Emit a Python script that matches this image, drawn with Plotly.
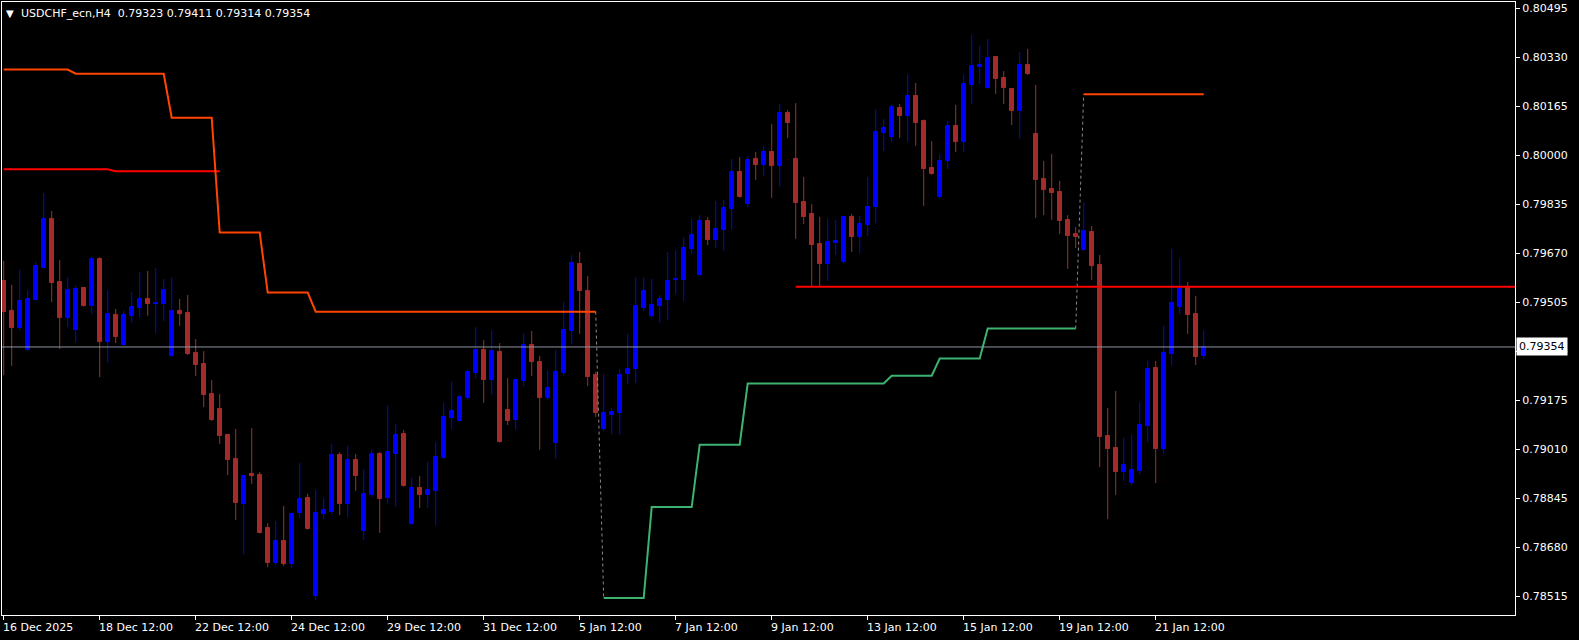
import plotly.graph_objects as go

# ---------------- data (USDCHF_ecn, H4) ----------------
opens = [0.79577, 0.79476, 0.79418, 0.79344, 0.79512, 0.79620, 0.79785, 0.79573, 0.79452, 0.79411,
         0.79553, 0.79492, 0.79650, 0.79370, 0.79462, 0.79360, 0.79459, 0.79485, 0.79516, 0.79500,
         0.79499, 0.79324, 0.79476, 0.79469, 0.79334, 0.79297, 0.79196, 0.79146, 0.79058, 0.78977,
         0.78826, 0.78927, 0.78923, 0.78744, 0.78627, 0.78701, 0.78623, 0.78795, 0.78846, 0.78516,
         0.78792, 0.78799, 0.78990, 0.78826, 0.78974, 0.78734, 0.78856, 0.78994, 0.78846, 0.78994,
         0.79061, 0.78758, 0.78880, 0.78856, 0.78870, 0.78980, 0.79115, 0.79105, 0.79182, 0.79266,
         0.79344, 0.79243, 0.79337, 0.79142, 0.79108, 0.79239, 0.79360, 0.79303, 0.79182, 0.79031,
         0.79266, 0.79408, 0.79634, 0.79543, 0.79260, 0.79078, 0.79125, 0.79132, 0.79263, 0.79280,
         0.79485, 0.79459, 0.79492, 0.79512, 0.79580, 0.79580, 0.79684, 0.79596, 0.79778, 0.79714,
         0.79748, 0.79818, 0.79943, 0.79835, 0.79987, 0.79967, 0.80010, 0.79963, 0.80142, 0.79987,
         0.79842, 0.79802, 0.79700, 0.79633, 0.79704, 0.79640, 0.79792, 0.79724, 0.79765, 0.79825,
         0.80074, 0.80061, 0.80158, 0.80132, 0.80199, 0.80115, 0.79956, 0.79859, 0.79980, 0.80098,
         0.80044, 0.80236, 0.80297, 0.80226, 0.80330, 0.80260, 0.80222, 0.80148, 0.80303, 0.80071,
         0.79919, 0.79886, 0.79876, 0.79781, 0.79734, 0.79680, 0.79741, 0.79630, 0.79054, 0.79014,
         0.78933, 0.78896, 0.78937, 0.79088, 0.79283, 0.79011, 0.79330, 0.79488, 0.79556, 0.79465,
         0.79323]
highs = [0.79644, 0.79563, 0.79613, 0.79546, 0.79640, 0.79872, 0.79812, 0.79647, 0.79589, 0.79560,
         0.79556, 0.79656, 0.79656, 0.79546, 0.79482, 0.79476, 0.79539, 0.79606, 0.79610, 0.79620,
         0.79583, 0.79587, 0.79516, 0.79529, 0.79381, 0.79340, 0.79243, 0.79196, 0.79060, 0.79078,
         0.78923, 0.79081, 0.78933, 0.78761, 0.78768, 0.78819, 0.78795, 0.78964, 0.78860, 0.78873,
         0.78846, 0.79028, 0.79000, 0.79021, 0.78994, 0.78944, 0.79007, 0.79000, 0.79156, 0.79095,
         0.79075, 0.78916, 0.78920, 0.78967, 0.79034, 0.79166, 0.79236, 0.79192, 0.79276, 0.79421,
         0.79377, 0.79411, 0.79367, 0.79249, 0.79246, 0.79401, 0.79408, 0.79324, 0.79276, 0.79344,
         0.79505, 0.79663, 0.79674, 0.79593, 0.79270, 0.79263, 0.79149, 0.79280, 0.79398, 0.79589,
         0.79589, 0.79583, 0.79529, 0.79674, 0.79680, 0.79724, 0.79785, 0.79798, 0.79791, 0.79845,
         0.79849, 0.79987, 0.79993, 0.79997, 0.80010, 0.80031, 0.80105, 0.80172, 0.80152, 0.80175,
         0.79926, 0.79835, 0.79792, 0.79785, 0.79781, 0.79792, 0.79802, 0.79795, 0.79926, 0.80155,
         0.80122, 0.80169, 0.80172, 0.80273, 0.80243, 0.80120, 0.80047, 0.80004, 0.80115, 0.80169,
         0.80270, 0.80404, 0.80367, 0.80391, 0.80333, 0.80283, 0.80226, 0.80347, 0.80357, 0.80236,
         0.79980, 0.80004, 0.79913, 0.79798, 0.79758, 0.79842, 0.79761, 0.79664, 0.79149, 0.79206,
         0.79048, 0.79058, 0.79169, 0.79307, 0.79307, 0.79425, 0.79684, 0.79650, 0.79573, 0.79526,
         0.79411]
lows = [0.79259, 0.79290, 0.79411, 0.79341, 0.79510, 0.79617, 0.79505, 0.79347, 0.79421, 0.79370,
        0.79490, 0.79466, 0.79252, 0.79300, 0.79367, 0.79358, 0.79435, 0.79452, 0.79459, 0.79401,
        0.79441, 0.79320, 0.79425, 0.79327, 0.79256, 0.79152, 0.79105, 0.79028, 0.78923, 0.78771,
        0.78657, 0.78893, 0.78726, 0.78613, 0.78620, 0.78617, 0.78610, 0.78778, 0.78739, 0.78502,
        0.78774, 0.78792, 0.78788, 0.78781, 0.78870, 0.78704, 0.78849, 0.78728, 0.78826, 0.78815,
        0.78884, 0.78754, 0.78812, 0.78812, 0.78754, 0.78978, 0.79078, 0.79103, 0.79180, 0.79249,
        0.79166, 0.79192, 0.79032, 0.79091, 0.79075, 0.79219, 0.79256, 0.79007, 0.79179, 0.78977,
        0.79256, 0.79364, 0.79398, 0.79222, 0.79118, 0.79071, 0.79061, 0.79058, 0.79229, 0.79233,
        0.79475, 0.79452, 0.79435, 0.79445, 0.79532, 0.79509, 0.79667, 0.79594, 0.79697, 0.79687,
        0.79677, 0.79748, 0.79857, 0.79825, 0.79916, 0.79930, 0.79856, 0.79893, 0.80057, 0.79718,
        0.79768, 0.79559, 0.79559, 0.79576, 0.79664, 0.79637, 0.79674, 0.79670, 0.79728, 0.79771,
        0.80014, 0.80044, 0.80057, 0.80044, 0.80031, 0.79829, 0.79934, 0.79857, 0.79953, 0.80010,
        0.80010, 0.80172, 0.80239, 0.80223, 0.80206, 0.80172, 0.80101, 0.80054, 0.80270, 0.79788,
        0.79798, 0.79782, 0.79734, 0.79617, 0.79687, 0.79678, 0.79580, 0.78950, 0.78775, 0.78856,
        0.78903, 0.78889, 0.78926, 0.79034, 0.78896, 0.78994, 0.79293, 0.79465, 0.79398, 0.79293,
        0.79314]
closes = [0.79472, 0.79418, 0.79509, 0.79516, 0.79627, 0.79785, 0.79570, 0.79452, 0.79546, 0.79549,
          0.79492, 0.79650, 0.79370, 0.79466, 0.79387, 0.79462, 0.79488, 0.79516, 0.79499, 0.79502,
          0.79546, 0.79476, 0.79466, 0.79331, 0.79293, 0.79192, 0.79108, 0.79055, 0.78974, 0.78829,
          0.78920, 0.78920, 0.78728, 0.78627, 0.78701, 0.78623, 0.78792, 0.78843, 0.78741, 0.78795,
          0.78805, 0.78990, 0.78826, 0.78974, 0.78920, 0.78860, 0.78994, 0.78843, 0.79000, 0.79058,
          0.78886, 0.78880, 0.78856, 0.78873, 0.78984, 0.79118, 0.79138, 0.79186, 0.79270, 0.79344,
          0.79243, 0.79340, 0.79034, 0.79105, 0.79243, 0.79360, 0.79303, 0.79182, 0.79216, 0.79270,
          0.79411, 0.79637, 0.79543, 0.79253, 0.79132, 0.79132, 0.79135, 0.79260, 0.79280, 0.79492,
          0.79543, 0.79495, 0.79516, 0.79576, 0.79582, 0.79687, 0.79731, 0.79778, 0.79714, 0.79751,
          0.79822, 0.79943, 0.79859, 0.79983, 0.79967, 0.80010, 0.79963, 0.80142, 0.80108, 0.79839,
          0.79792, 0.79697, 0.79633, 0.79707, 0.79710, 0.79790, 0.79724, 0.79768, 0.79825, 0.80078,
          0.80091, 0.80162, 0.80132, 0.80199, 0.80108, 0.79953, 0.79936, 0.79980, 0.80098, 0.80044,
          0.80239, 0.80300, 0.80303, 0.80327, 0.80256, 0.80226, 0.80148, 0.80303, 0.80273, 0.79916,
          0.79882, 0.79872, 0.79778, 0.79728, 0.79724, 0.79744, 0.79627, 0.79051, 0.79011, 0.78933,
          0.78957, 0.78940, 0.79091, 0.79280, 0.79011, 0.79334, 0.79502, 0.79549, 0.79462, 0.79320,
          0.79354]

# trailing stop (down-trend, orange) and (up-trend, green), per bar; None = not drawn
upper_stop = ([0.80288] * 9 + [0.80274] * 12 + [0.80126] * 6 + [0.79739] * 6 + [0.79537] * 6
              + [0.79473] * 36 + [None] * 60 + [0.80205] * 16)
lower_stop = ([None] * 75 + [0.78509] * 6 + [0.78815] * 6 + [0.79025] * 6 + [0.79231] * 18
              + [0.79257] * 6 + [0.79315] * 6 + [0.79416] * 12 + [None] * 16)
resist_line = [0.79952] * 14 + [0.79946] * 14 + [None] * 123
support_level = 0.79557
support_start = 99

tick_idx = [0, 12, 24, 36, 48, 60, 72, 84, 96, 108, 120, 132, 144]
tick_text = ["16 Dec 2025", "18 Dec 12:00", "22 Dec 12:00", "24 Dec 12:00", "29 Dec 12:00",
             "31 Dec 12:00", "5 Jan 12:00", "7 Jan 12:00", "9 Jan 12:00", "13 Jan 12:00",
             "15 Jan 12:00", "19 Jan 12:00", "21 Jan 12:00"]
price_ticks = [0.80495, 0.80330, 0.80165, 0.80000, 0.79835, 0.79670, 0.79505, 0.79340,
               0.79175, 0.79010, 0.78845, 0.78680, 0.78515]
symbol_text = "USDCHF_ecn,H4"

# ---------------- figure ----------------
UP = "#0000FF"
DN = "#A52A2A"
n = len(opens)
idx = list(range(n))
up_i = [i for i in idx if closes[i] >= opens[i]]
dn_i = [i for i in idx if closes[i] < opens[i]]

fig = go.Figure()


def wicks(ids):
    xs, ys = [], []
    for i in ids:
        xs += [i, i, None]
        ys += [lows[i], highs[i], None]
    return xs, ys


for ids, col in ((up_i, UP), (dn_i, DN)):
    wx, wy = wicks(ids)
    fig.add_trace(go.Scatter(x=wx, y=wy, mode="lines", line=dict(color=col, width=1),
                             hoverinfo="skip", connectgaps=False))
    fig.add_trace(go.Bar(x=ids,
                         y=[abs(closes[i] - opens[i]) for i in ids],
                         base=[min(opens[i], closes[i]) for i in ids],
                         width=0.5,
                         marker=dict(color=col, line=dict(color=col, width=1)),
                         hoverinfo="skip"))

# indicator lines
fig.add_trace(go.Scatter(x=idx, y=resist_line, mode="lines", line=dict(color="#FF0000", width=2),
                         connectgaps=False, hoverinfo="skip"))
fig.add_trace(go.Scatter(x=idx, y=upper_stop, mode="lines", line=dict(color="#FF4500", width=2),
                         connectgaps=False, hoverinfo="skip"))
fig.add_trace(go.Scatter(x=idx, y=lower_stop, mode="lines", line=dict(color="#3CB371", width=2),
                         connectgaps=False, hoverinfo="skip"))
# dotted switch segments
fig.add_trace(go.Scatter(x=[74, 75, None, 134, 135],
                         y=[upper_stop[74], lower_stop[75], None, lower_stop[134], upper_stop[135]],
                         mode="lines", line=dict(color="#8a8a8a", width=1, dash="3px,3px"),
                         connectgaps=False, hoverinfo="skip"))

x_range = [-0.2125, 188.9125]
y_range = [0.784517, 0.805154]

fig.add_trace(go.Scatter(x=[support_start, x_range[1]], y=[support_level, support_level], mode="lines",
                         line=dict(color="#FF0000", width=2), hoverinfo="skip"))

last = closes[-1]
fig.add_shape(type="line", xref="paper", yref="y", x0=0, x1=1, y0=last, y1=last,
              line=dict(color="#8c96a0", width=1), layer="above")

annotations = []
for t, s in zip(tick_idx, tick_text):
    annotations.append(dict(x=t, y=0, xref="x", yref="paper", text=s, showarrow=False,
                            xanchor="left", yanchor="top", xshift=-3, yshift=-4,
                            font=dict(family="DejaVu Sans", size=11, color="white")))
annotations.append(dict(x=0, y=1, xref="paper", yref="paper", text="▼", showarrow=False,
                        xanchor="left", yanchor="top", xshift=2, yshift=-4,
                        font=dict(family="DejaVu Sans", size=10, color="white")))
title = f"{symbol_text}\u00a0\u00a0{opens[-1]:.5f} {highs[-1]:.5f} {lows[-1]:.5f} {closes[-1]:.5f}"
annotations.append(dict(x=0, y=1, xref="paper", yref="paper", text=title, showarrow=False,
                        xanchor="left", yanchor="top", xshift=17, yshift=-3,
                        font=dict(family="DejaVu Sans", size=11, color="white")))
annotations.append(dict(x=1, y=last, xref="paper", yref="y", text=f"{last:.5f}", showarrow=False,
                        xanchor="left", yanchor="middle", xshift=1, bgcolor="white", borderpad=2,
                        font=dict(family="DejaVu Sans", size=11, color="black")))

fig.update_layout(
    width=1579, height=640,
    margin=dict(l=2, r=64, t=2, b=25, pad=0),
    paper_bgcolor="black", plot_bgcolor="black",
    showlegend=False, barmode="overlay", bargap=0,
    font=dict(family="DejaVu Sans", size=11, color="white"),
    annotations=annotations,
    xaxis=dict(range=x_range, showgrid=False, zeroline=False, showline=True, linecolor="white",
               linewidth=1, mirror=True, tickmode="array", tickvals=tick_idx, ticks="outside",
               ticklen=4, tickwidth=1, tickcolor="white", showticklabels=False, fixedrange=True),
    yaxis=dict(side="right", range=y_range, tickmode="array", tickvals=price_ticks,
               ticktext=[f"{v:.5f}" for v in price_ticks], ticks="outside", ticklen=4, tickwidth=1,
               tickcolor="white", showgrid=False, zeroline=False, showline=True, linecolor="white",
               linewidth=1, mirror=True, fixedrange=True,
               tickfont=dict(family="DejaVu Sans", size=11, color="white")),
)

fig.write_html("out.html", config={"displayModeBar": False},
               post_script="document.body.style.margin='0';document.body.style.overflow='hidden';"
                           "document.documentElement.style.overflow='hidden';")
